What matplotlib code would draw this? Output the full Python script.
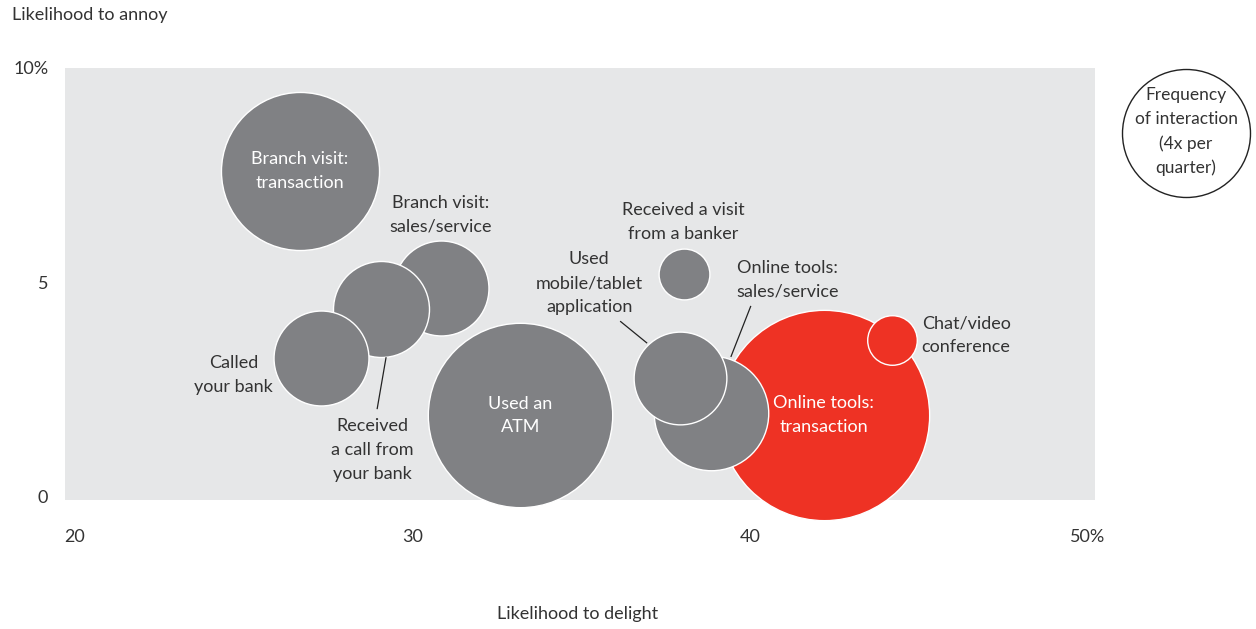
import matplotlib
matplotlib.use("Agg")
import matplotlib.pyplot as plt
import numpy as np

plt.rcParams['font.family'] = ['Lato', 'DejaVu Sans']

# ---- data ----
labels = ["Branch visit:\ntransaction", "Branch visit:\nsales/service",
          "Received\na call from\nyour bank", "Called\nyour bank",
          "Used an\nATM", "Online tools:\ntransaction", "Chat/video\nconference",
          "Online tools:\nsales/service", "Used\nmobile/tablet\napplication",
          "Received a visit\nfrom a banker"]
delight = [26.67, 30.83, 29.07, 27.30, 33.19, 42.19, 44.21, 38.84, 37.93, 38.03]
annoy = [7.60, 4.88, 4.39, 3.25, 1.90, 1.91, 3.66, 1.96, 2.77, 5.19]
frequency = [6.1, 2.2, 2.25, 2.2, 8.3, 10.8, 0.6, 3.2, 2.1, 0.63]
digital = [False, False, False, False, False, True, True, False, False, False]
legend_freq = 4
x_ticks = [20, 30, 40, 50]
x_ticklabels = ["20", "30", "40", "50%"]
y_ticks = [0, 5, 10]
y_ticklabels = ["0", "5", "10%"]

GRAY = "#808184"
RED = "#EE3224"
BG = "#E6E7E8"
TXT = "#333333"
DPI = 100
FS = 13
LS = 1.6

fig = plt.figure(figsize=(12.56, 6.29), dpi=DPI)
W, H = 1256, 629
ax = fig.add_axes([65 / W, (H - 500) / H, (1095 - 65) / W, (500 - 68) / H])
ax.set_facecolor(BG)
for s in ax.spines.values():
    s.set_visible(False)
ax.set_xlim(19.704, 50.222)
ax.set_ylim(-0.07, 10)
ax.set_xticks(x_ticks)
ax.set_xticklabels(x_ticklabels)
ax.set_yticks(y_ticks)
ax.set_yticklabels(y_ticklabels)
ax.tick_params(axis='both', length=0, labelsize=FS, colors=TXT)
ax.tick_params(axis='x', pad=21)
ax.tick_params(axis='y', pad=12)


def size_of(f):
    r_px = 64 * np.sqrt(f / legend_freq)
    d_pt = 2 * r_px * 72 / DPI
    return d_pt ** 2


for i in range(len(labels)):
    ax.scatter([delight[i]], [annoy[i]], s=size_of(frequency[i]),
               color=RED if digital[i] else GRAY, edgecolor="white",
               linewidth=1.0, zorder=2 + i, clip_on=False)

# label offsets (pixels, relative to bubble centre) and text style
offsets = [(0, 0), (0, 73), (-9, -141.5), (-87.5, -17.5), (0, 0), (0, 0),
           (74, 5), (77, 133), (-91, 95), (0, 52.5)]
inside = [True, False, False, False, True, True, False, False, False, False]
for i, lab in enumerate(labels):
    ax.annotate(lab, (delight[i], annoy[i]), xytext=offsets[i],
                textcoords='offset pixels', ha='center', va='center',
                fontsize=FS, color='white' if inside[i] else TXT,
                linespacing=LS, zorder=30)

# leader lines (pixel offsets relative to bubble centre)
leaders = {2: ((5, -48.5), (-4, -100.5)),
           8: ((-60, 57), (-33, 35)),
           7: ((40, 107), (20, 56))}
for i, ((x1, y1), (x2, y2)) in leaders.items():
    tr = ax.transData
    p = tr.transform((delight[i], annoy[i]))
    inv = tr.inverted()
    a = inv.transform((p[0] + x1, p[1] + y1))
    b = inv.transform((p[0] + x2, p[1] + y2))
    ax.plot([a[0], b[0]], [a[1], b[1]], color="#222222", lw=0.9, zorder=25,
            solid_capstyle='butt')

# legend bubble
lx = 19.704 + (1186 - 65) / 33.75
ly = 10 - (133 - 68) / 42.9
ax.scatter([lx], [ly], s=size_of(legend_freq), facecolor='white',
           edgecolor='#222222', linewidth=1.0, clip_on=False, zorder=40)
ax.text(lx, ly + 0.03, "Frequency\nof interaction\n(4x per\nquarter)", ha='center',
        va='center', fontsize=FS - 0.5, color=TXT, linespacing=LS, zorder=41,
        clip_on=False)

fig.text(12 / W, 1 - 15 / H, "Likelihood to annoy", ha='left', va='center',
         fontsize=FS, color=TXT)
fig.text(578 / W, 1 - 614 / H, "Likelihood to delight", ha='center', va='center',
         fontsize=FS, color=TXT)

fig.savefig("out.png", dpi=DPI, facecolor='white')
